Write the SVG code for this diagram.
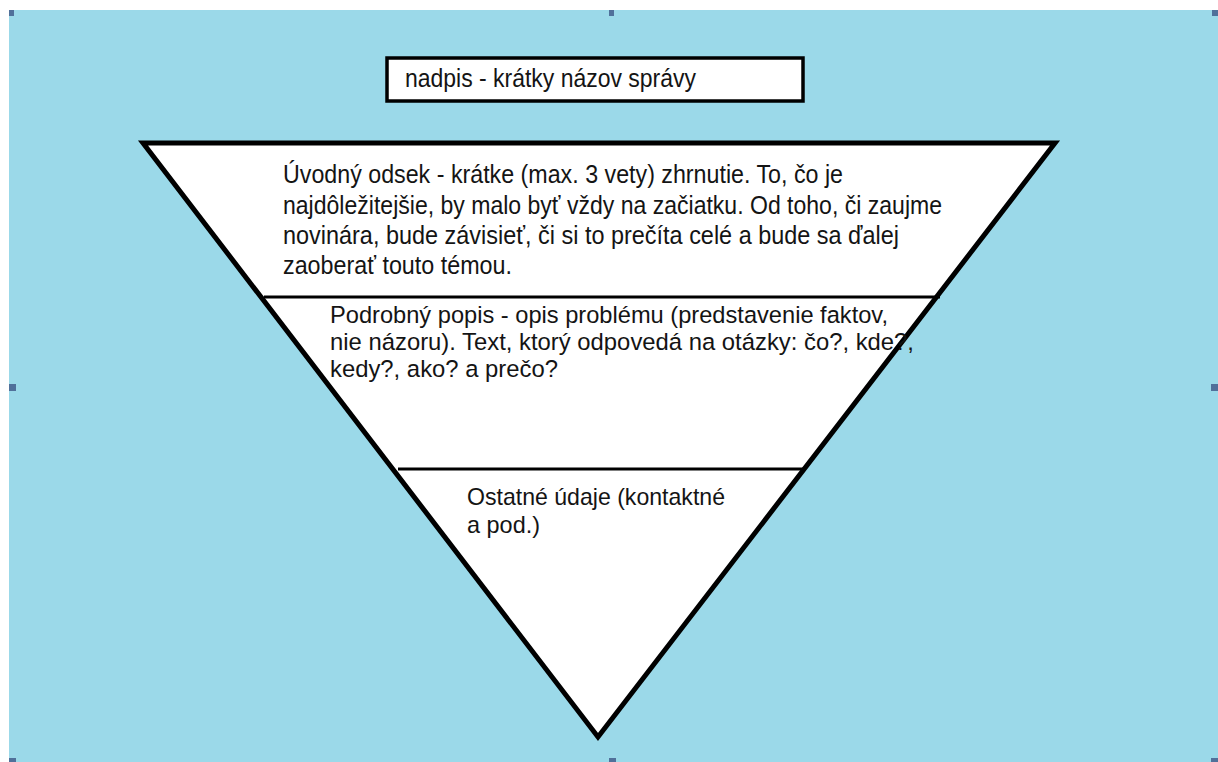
<svg xmlns="http://www.w3.org/2000/svg" width="1218" height="762" viewBox="0 0 1218 762">
<style>
.t{font-family:"Liberation Sans",Arial,sans-serif;fill:#141414}
.h{fill:#50709a}
</style>
<rect x="0" y="0" width="1218" height="762" fill="#ffffff"/>
<rect x="9" y="10" width="1209" height="752" fill="#9bd9e9"/>
<g id="handles">
<rect class="h" x="9" y="10" width="5" height="6"/>
<rect class="h" x="609" y="10" width="5" height="6"/>
<rect class="h" x="1212" y="10" width="6" height="6"/>
<rect class="h" x="9" y="384" width="7" height="7"/>
<rect class="h" x="1211" y="384" width="7" height="7"/>
<rect class="h" x="9" y="758" width="7" height="4"/>
<rect class="h" x="609" y="758" width="7" height="4"/>
<rect class="h" x="1211" y="758" width="7" height="4"/>
</g>
<g id="title">
<rect x="387" y="58" width="416" height="43" fill="#ffffff" stroke="#000" stroke-width="3.5"/>
<text class="t" x="405" y="87" font-size="25" textLength="291" lengthAdjust="spacingAndGlyphs">nadpis - krátky názov správy</text>
</g>
<g id="pyramid">
<polygon points="143,143 1055,143 598,737" fill="#ffffff" stroke="#000" stroke-width="5" stroke-linejoin="miter"/>
</g>
<g id="connectors">
<line x1="264" y1="297" x2="940" y2="297" stroke="#000" stroke-width="3"/>
<line x1="398" y1="469" x2="805" y2="469" stroke="#000" stroke-width="3"/>
</g>
<g id="lead">
<text class="t" font-size="25.5">
<tspan x="283" y="183" textLength="560" lengthAdjust="spacingAndGlyphs">Úvodný odsek - krátke (max. 3 vety) zhrnutie. To, čo je</tspan>
<tspan x="283" y="214" textLength="659" lengthAdjust="spacingAndGlyphs">najdôležitejšie, by malo byť vždy na začiatku. Od toho, či zaujme</tspan>
<tspan x="283" y="244" textLength="616" lengthAdjust="spacingAndGlyphs">novinára, bude závisieť, či si to prečíta celé a bude sa ďalej</tspan>
<tspan x="283" y="274" textLength="229" lengthAdjust="spacingAndGlyphs">zaoberať touto témou.</tspan>
</text>
</g>
<g id="body">
<text class="t" font-size="24.5">
<tspan x="330" y="323" textLength="558" lengthAdjust="spacingAndGlyphs">Podrobný popis - opis problému (predstavenie faktov,</tspan>
<tspan x="330" y="350" textLength="584" lengthAdjust="spacingAndGlyphs">nie názoru). Text, ktorý odpovedá na otázky: čo?, kde?,</tspan>
<tspan x="330" y="377" textLength="228" lengthAdjust="spacingAndGlyphs">kedy?, ako? a prečo?</tspan>
</text>
</g>
<g id="other">
<text class="t" font-size="24">
<tspan x="467" y="505" textLength="258" lengthAdjust="spacingAndGlyphs">Ostatné údaje (kontaktné</tspan>
<tspan x="467" y="533" textLength="73" lengthAdjust="spacingAndGlyphs">a pod.)</tspan>
</text>
</g>
</svg>
